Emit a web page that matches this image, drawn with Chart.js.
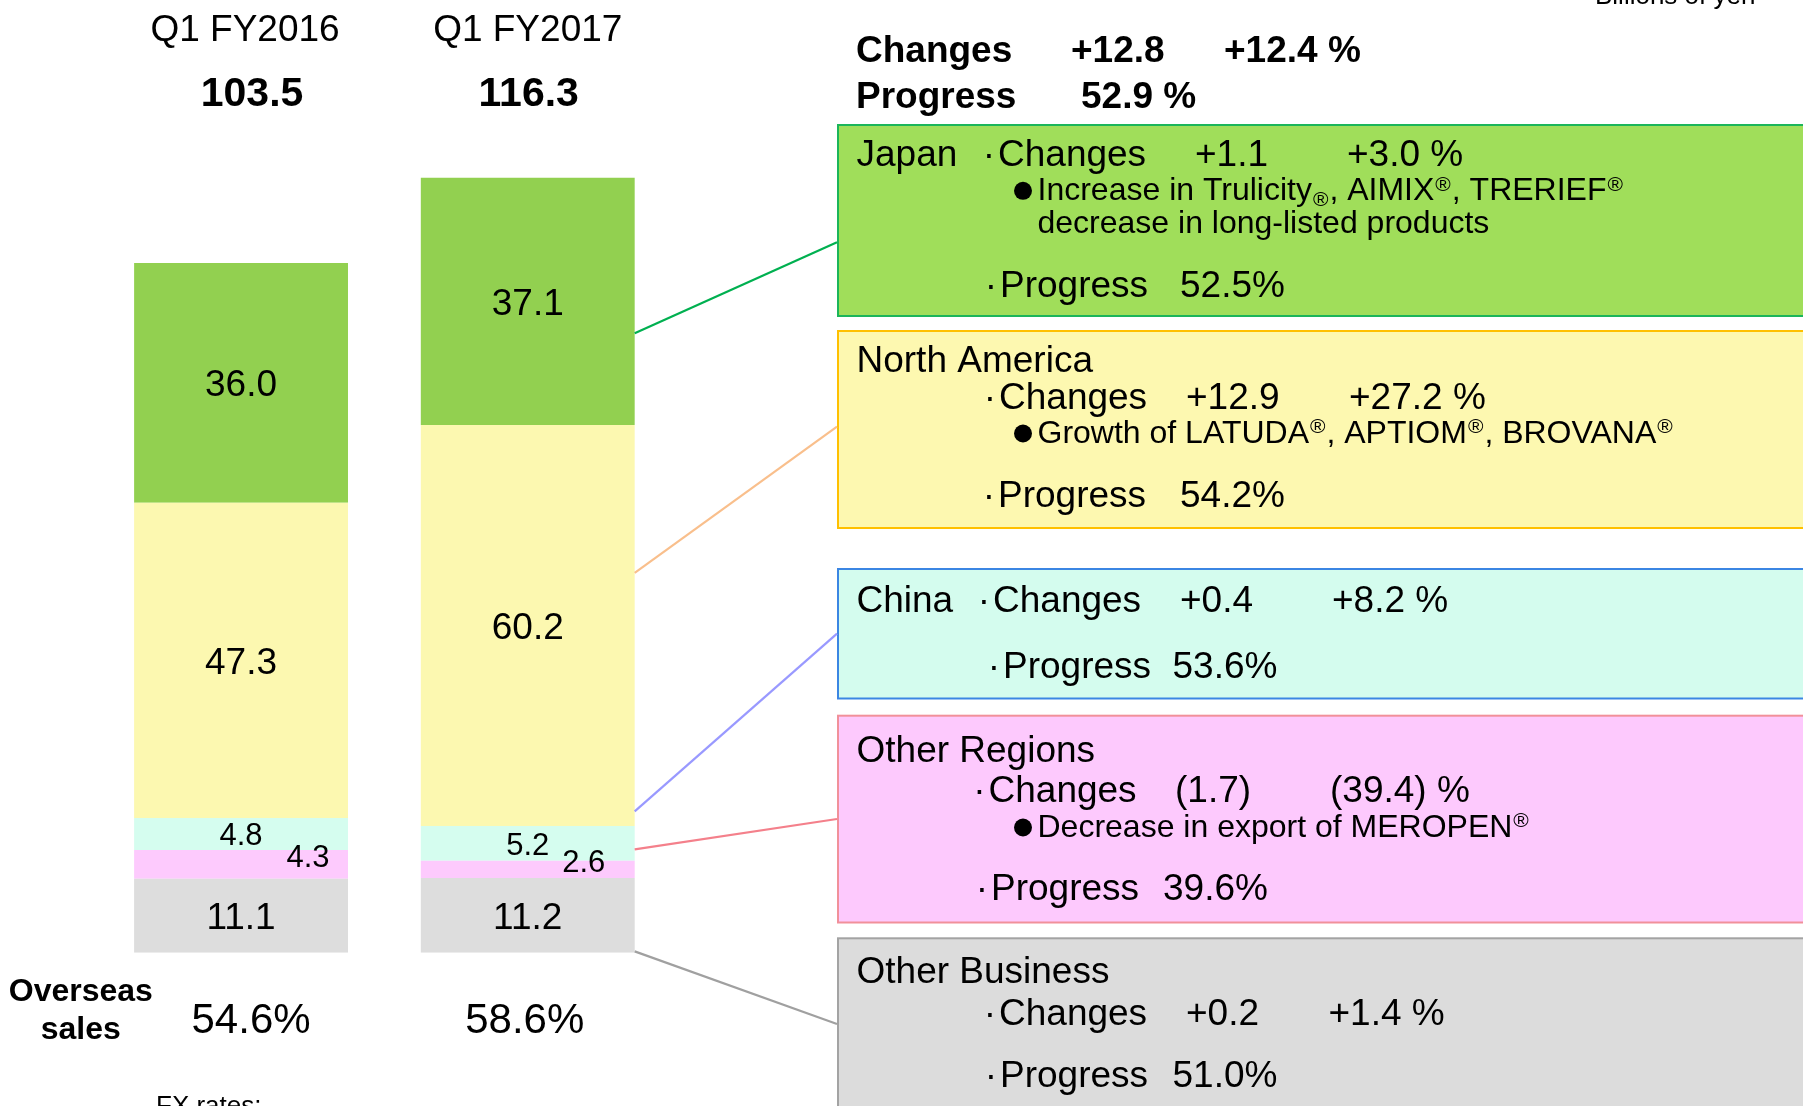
<!DOCTYPE html>
<html><head><meta charset="utf-8">
<script src="https://cdn.jsdelivr.net/npm/chart.js@4.4.1/dist/chart.umd.min.js"></script>
<style>html,body{margin:0;padding:0;background:#fff;overflow:hidden}canvas{display:block}</style>
</head><body>
<canvas id="c" width="1803" height="1106" style="width:1803px;height:1106px"></canvas>
<script>
// ---------- data ----------
const categories = ['Q1 FY2016', 'Q1 FY2017'];
const totals = ['103.5', '116.3'];
const otherBusiness = [11.1, 11.2];
const otherRegions = [4.3, 2.6];
const china = [4.8, 5.2];
const northAmerica = [47.3, 60.2];
const japan = [36.0, 37.1];
const overseasSales = ['54.6%', '58.6%'];
const overseasLabel = ['Overseas', 'sales'];
const unitLabel = 'Billions of yen';
const fxLabel = 'FX rates:';
const totalChanges = ['Changes', '+12.8', '+12.4 %'];
const totalProgress = ['Progress', '52.9 %'];
const regionNames = ['Japan', 'North America', 'China', 'Other Regions', 'Other Business'];
const regionChangeAbs = ['+1.1', '+12.9', '+0.4', '(1.7)', '+0.2'];
const regionChangePct = ['+3.0 %', '+27.2 %', '+8.2 %', '(39.4) %', '+1.4 %'];
const regionProgress = ['52.5%', '54.2%', '53.6%', '39.6%', '51.0%'];
const regionNotes = [
  ['Increase in Trulicity_®, AIMIX^®, TRERIEF^®', 'decrease in long-listed products'],
  ['Growth of LATUDA^®, APTIOM^®, BROVANA^®'],
  [],
  ['Decrease in export of MEROPEN^®'],
  []
];
// value on the FY2017 bar where each connector line leaves it
const connectorAnchor = [92.95, 57.0, 21.2, 15.5, 0.2];

// ---------- style / layout ----------
const FONT = '"Liberation Sans", Arial, Helvetica, sans-serif';
const fnt = (s, b) => (b ? 'bold ' : '') + s + 'px ' + FONT;
const BOX_LEFT = 838;
const boxes = [
  {top:125, bottom:316, fill:'#a0de5a', stroke:'#1bb55a', line:'#00b050', lineEnd:242.3,
   nameY:165.7, chgY:165.7, chgX:998, absX:1195, pctX:1347, noteY:[200, 233.3], progY:296.7, progX:1000, progValX:1180},
  {top:331, bottom:528, fill:'#fdf8b0', stroke:'#ffc000', line:'#f9bf8c', lineEnd:426.7,
   nameY:371.7, chgY:409.3, chgX:999, absX:1186, pctX:1349, noteY:[442.7], progY:506.7, progX:998, progValX:1180},
  {top:569, bottom:698.5, fill:'#d4fcee', stroke:'#3b86e3', line:'#9999ff', lineEnd:633.6,
   nameY:611.7, chgY:611.7, chgX:993, absX:1180, pctX:1332, noteY:[], progY:678.3, progX:1003, progValX:1172.5},
  {top:715.7, bottom:922.5, fill:'#fdc9fd', stroke:'#f1909a', line:'#f4808b', lineEnd:819,
   nameY:761.7, chgY:801.7, chgX:988.5, absX:1175, pctX:1330, noteY:[836.7], progY:900, progX:991, progValX:1163},
  {top:938.3, bottom:1130, fill:'#dcdcdc', stroke:'#a3a3a3', line:'#a0a0a0', lineEnd:1024,
   nameY:983.3, chgY:1025, chgX:999, absX:1186, pctX:1328.5, noteY:[], progY:1086.7, progX:1000, progValX:1172.5}
];
const catDx = [4, 0], totDx = [11, 1], ovDx = [10, -3];
const pinkDx = [67, 56];

function text(ctx, s, x, y, font, align) {
  ctx.font = font; ctx.textAlign = align || 'left'; ctx.textBaseline = 'alphabetic';
  ctx.fillText(s, x, y);
}
// "·" bullet word: dot placed a little before the word, as in the slide
function dotWord(ctx, word, x, y, size) {
  ctx.font = fnt(size); ctx.textAlign = 'left'; ctx.textBaseline = 'alphabetic';
  const w = ctx.measureText('·').width;
  ctx.fillText('·', x - w - 3, y);
  ctx.fillText(word, x, y);
}
function richText(ctx, s, x, y, size) {
  const parts = s.split(/([_^]®)/);
  let cx = x;
  ctx.textAlign = 'left'; ctx.textBaseline = 'alphabetic';
  parts.forEach(p => {
    if (!p) return;
    if (p[0] === '^' || p[0] === '_') {
      const small = Math.round(size * 0.66);
      ctx.font = fnt(small);
      const dy = p[0] === '^' ? -size * 0.29 : size * 0.2;
      ctx.fillText('®', cx + 1, y + dy);
      cx += ctx.measureText('®').width + 2;
    } else {
      ctx.font = fnt(size);
      ctx.fillText(p, cx, y);
      cx += ctx.measureText(p).width;
    }
  });
}

const overlay = {
  id: 'overlay',
  afterDatasetsDraw(chart) {
    const ctx = chart.ctx;
    const ys = chart.scales.y;
    const n = chart.data.datasets.length;
    ctx.save();
    ctx.fillStyle = '#000';

    // segment value labels
    chart.data.datasets.forEach((ds, di) => {
      const meta = chart.getDatasetMeta(di);
      meta.data.forEach((el, j) => {
        const v = ds.data[j];
        const cy = (el.y + el.base) / 2;
        ctx.fillStyle = '#000';
        if (ds.label === 'Other Regions') {
          text(ctx, v.toFixed(1), el.x + pinkDx[j], cy - 8 + 0.358 * 31, fnt(31), 'center');
        } else if (ds.label === 'China') {
          text(ctx, v.toFixed(1), el.x, cy + 0.358 * 31, fnt(31), 'center');
        } else {
          text(ctx, v.toFixed(1), el.x, cy + 0.358 * 37, fnt(37), 'center');
        }
      });
    });

    // category headers, totals, overseas
    const meta0 = chart.getDatasetMeta(0);
    meta0.data.forEach((el, j) => {
      ctx.fillStyle = '#000';
      text(ctx, categories[j], el.x + catDx[j], 41, fnt(37), 'center');
      text(ctx, totals[j], el.x + totDx[j], 106, fnt(41, true), 'center');
      text(ctx, overseasSales[j], el.x + ovDx[j], 1033.3, fnt(42), 'center');
    });
    text(ctx, overseasLabel[0], 80.8, 1000.7, fnt(32, true), 'center');
    text(ctx, overseasLabel[1], 80.8, 1039, fnt(32, true), 'center');
    text(ctx, fxLabel, 156, 1114, fnt(26), 'left');
    text(ctx, unitLabel, 1595, 4, fnt(26), 'left');

    // summary header
    text(ctx, totalChanges[0], 856, 61.7, fnt(37, true));
    text(ctx, totalChanges[1], 1071, 61.7, fnt(37, true));
    text(ctx, totalChanges[2], 1224, 61.7, fnt(37, true));
    text(ctx, totalProgress[0], 856, 108, fnt(37, true));
    text(ctx, totalProgress[1], 1081, 108, fnt(37, true));

    // region boxes
    boxes.forEach((b, i) => {
      ctx.fillStyle = b.fill;
      ctx.fillRect(BOX_LEFT, b.top, 1100, b.bottom - b.top);
      ctx.strokeStyle = b.stroke; ctx.lineWidth = 2;
      ctx.strokeRect(BOX_LEFT, b.top, 1100, b.bottom - b.top);

      // connector line from FY2017 bar
      const el = chart.getDatasetMeta(n - 1 - i).data[1];
      const x0 = el.x + el.width / 2;
      const y0 = ys.getPixelForValue(connectorAnchor[i]);
      ctx.strokeStyle = b.line; ctx.lineWidth = 2.2;
      ctx.beginPath(); ctx.moveTo(x0, y0); ctx.lineTo(BOX_LEFT - 1, b.lineEnd); ctx.stroke();

      ctx.fillStyle = '#000';
      text(ctx, regionNames[i], 856.5, b.nameY, fnt(37));
      dotWord(ctx, 'Changes', b.chgX, b.chgY, 37);
      text(ctx, regionChangeAbs[i], b.absX, b.chgY, fnt(37));
      text(ctx, regionChangePct[i], b.pctX, b.chgY, fnt(37));
      regionNotes[i].forEach((line, k) => {
        const by = b.noteY[k];
        if (k === 0) {
          ctx.beginPath(); ctx.arc(1023, by - 9.2, 9, 0, Math.PI * 2); ctx.fill();
        }
        richText(ctx, line, 1037.5, by, 32);
      });
      dotWord(ctx, 'Progress', b.progX, b.progY, 37);
      text(ctx, regionProgress[i], b.progValX, b.progY, fnt(37));
    });
    ctx.restore();
  }
};

new Chart(document.getElementById('c'), {
  type: 'bar',
  data: {
    labels: categories,
    datasets: [
      {label: 'Other Business', data: otherBusiness, backgroundColor: '#dddddd'},
      {label: 'Other Regions', data: otherRegions, backgroundColor: '#fdcafd'},
      {label: 'China', data: china, backgroundColor: '#d5fdef'},
      {label: 'North America', data: northAmerica, backgroundColor: '#fcf8b0'},
      {label: 'Japan', data: japan, backgroundColor: '#92d050'}
    ]
  },
  options: {
    responsive: false,
    animation: false,
    devicePixelRatio: 1,
    layout: {padding: {left: 97.7, right: 1131.9, top: 0, bottom: 153.3}},
    datasets: {bar: {barPercentage: 0.746, categoryPercentage: 1, borderWidth: 0}},
    scales: {
      x: {stacked: true, display: false},
      y: {stacked: true, display: false, min: 0, max: 142.96}
    },
    plugins: {legend: {display: false}, tooltip: {enabled: false}}
  },
  plugins: [overlay]
});
</script>
</body></html>
